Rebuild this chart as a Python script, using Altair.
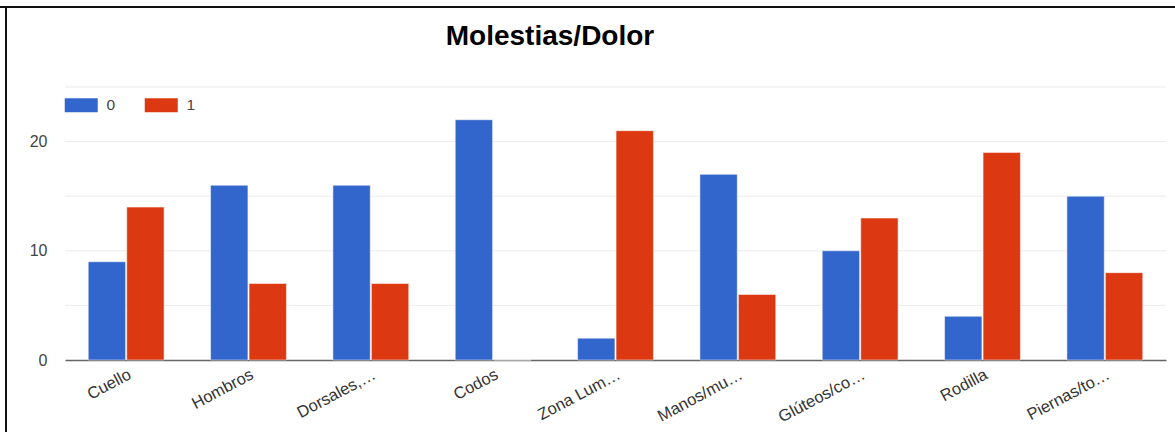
import altair as alt
import pandas as pd

# Body regions and counts per answer group ("0" / "1")
categorias = ["Cuello", "Hombros", "Dorsales,…", "Codos", "Zona Lum…",
              "Manos/mu…", "Glúteos/co…", "Rodilla", "Piernas/to…"]
serie_0 = [9, 16, 16, 22, 2, 17, 10, 4, 15]
serie_1 = [14, 7, 7, 0, 21, 6, 13, 19, 8]
series = ["0", "1"]
colores = ["#3366cc", "#dc3912"]
titulo = "Molestias/Dolor"

rows = []
for c, a, b in zip(categorias, serie_0, serie_1):
    rows.append({"zona": c, "serie": "0", "valor": a})
    rows.append({"zona": c, "serie": "1", "valor": b})
df = pd.DataFrame(rows)

FONT = "Liberation Sans"

bars = alt.Chart(df).mark_bar(stroke="white", strokeWidth=0.5).encode(
    x=alt.X("zona:N", sort=categorias, title=None,
            scale=alt.Scale(paddingInner=0.38, paddingOuter=0.19),
            axis=alt.Axis(labelAngle=-28, labelAlign="right", labelBaseline="top",
                          labelPadding=6, ticks=False, domain=True,
                          domainColor="#666", domainWidth=1.5, grid=False,
                          labelFontSize=16.5, labelColor="#333", labelFont=FONT)),
    xOffset=alt.XOffset("serie:N", sort=series, scale=alt.Scale(paddingInner=0.03)),
    y=alt.Y("valor:Q", title=None,
            scale=alt.Scale(domain=[0, 25], nice=False),
            axis=alt.Axis(values=[0, 10, 20], ticks=False, domain=False, grid=False,
                          labelFontSize=16, labelColor="#444", labelFont=FONT,
                          labelPadding=18)),
    color=alt.Color("serie:N", sort=series,
                    scale=alt.Scale(domain=series, range=colores),
                    legend=alt.Legend(title=None, orient="none", direction="horizontal",
                                      legendX=-1, legendY=10, padding=0,
                                      symbolType="M-1,-1H3.714V1H-1Z", symbolSize=196,
                                      symbolStrokeWidth=0, symbolOpacity=1,
                                      labelOffset=27, columnPadding=28,
                                      labelFontSize=15.5, labelColor="#444",
                                      labelFont=FONT)),
)

# Horizontal gridlines every 5 units
grid = alt.Chart(pd.DataFrame({"g": [5, 10, 15, 20, 25]})).mark_rule(
    color="#ebebeb", strokeWidth=1
).encode(y="g:Q")

# Chart heading, placed above the legend
heading = alt.Chart(pd.DataFrame({"t": [titulo]})).mark_text(
    font=FONT, fontSize=28, fontWeight="bold", color="#000",
    align="center", baseline="alphabetic"
).encode(text="t:N", x=alt.value(485), y=alt.value(-42))

# Frame lines along the top and left edges of the figure
frame_top = alt.Chart(pd.DataFrame({"a": [0]})).mark_rule(
    color="#111", strokeWidth=2
).encode(x=alt.value(-65), x2=alt.value(1110), y=alt.value(-80))
frame_left = alt.Chart(pd.DataFrame({"a": [0]})).mark_rule(
    color="#111", strokeWidth=2
).encode(x=alt.value(-59), y=alt.value(-80), y2=alt.value(345))

chart = alt.layer(grid, bars, heading, frame_top, frame_left).properties(
    width=1101, height=273,
    autosize=alt.AutoSizeParams(type="none"),
    padding={"left": 65, "top": 87, "right": 9, "bottom": 72},
).configure_view(stroke=None)

chart.save("out.html", embed_options={"renderer": "svg", "actions": False})
